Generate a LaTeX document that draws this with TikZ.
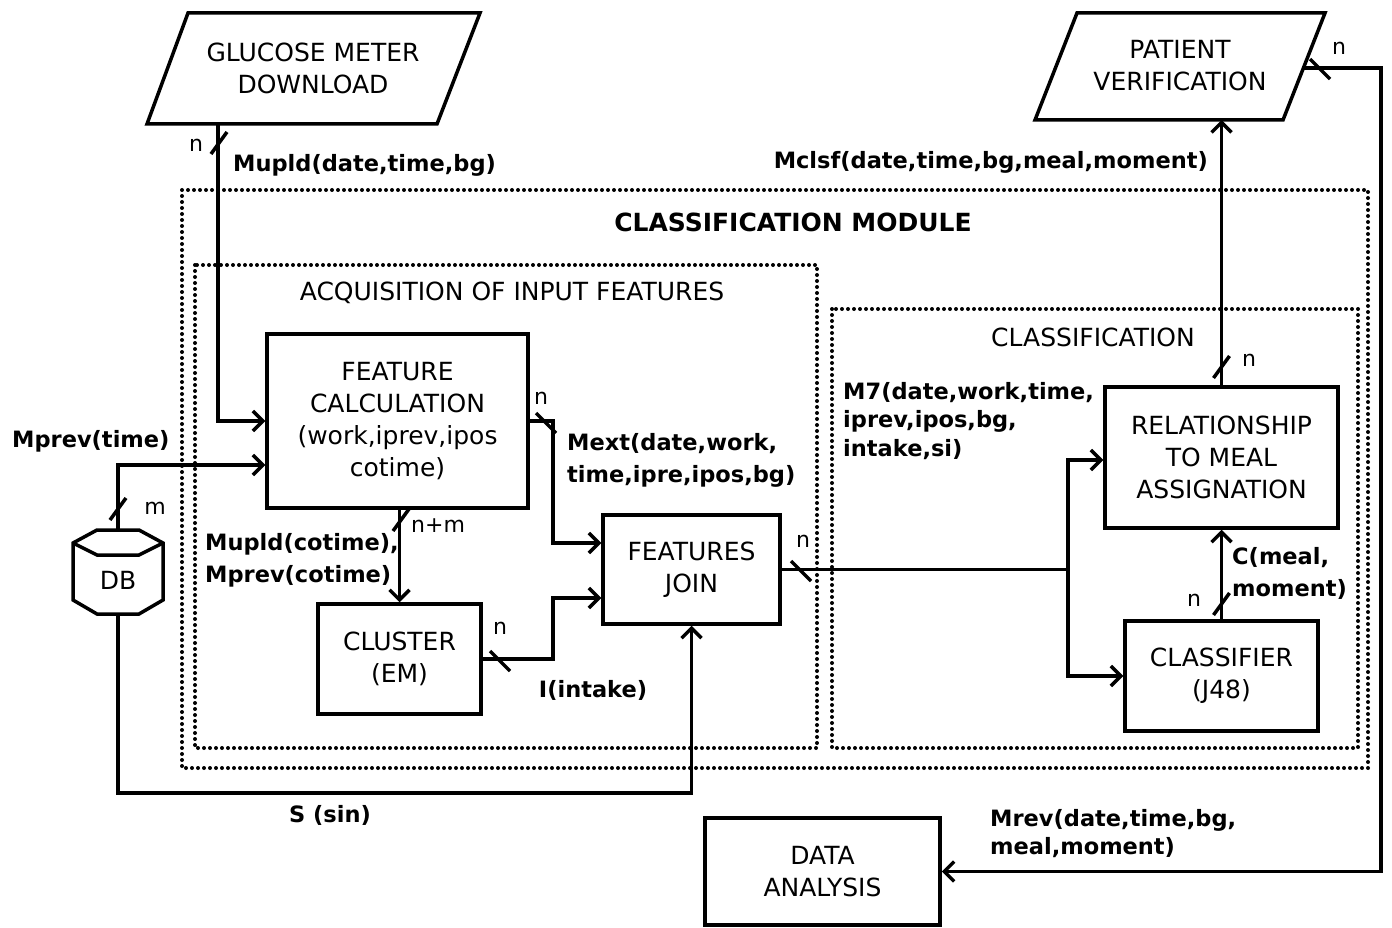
\documentclass[tikz,border=0pt]{standalone}
\usepackage{fontspec}
\setmainfont{DejaVu Sans}
\usetikzlibrary{arrows.meta}
\newcommand\bxfnt{\fontsize{25}{32}\selectfont}
\newcommand\lbfnt{\fontsize{22.5}{32}\selectfont\bfseries}
\newcommand\smfnt{\fontsize{22}{26}\selectfont}
\begin{document}
\begin{tikzpicture}[x=1pt,y=-1pt,
  con/.style={line width=3.5pt,line join=miter},
  arr/.style={con,-{Straight Barb[length=10pt,width=20pt,line width=3.5pt]}},
  box/.style={draw,line width=3.5pt,align=center,font=\bxfnt,inner sep=0pt},
  ttl/.style={font=\bxfnt,inner sep=0pt,align=center},
  lbl/.style={font=\lbfnt,inner sep=0pt,align=left},
  sm/.style={font=\smfnt,inner sep=0pt},
  dotbox/.style={line width=4pt,line cap=round,dash pattern=on 0pt off 6pt},
  vslash/.pic={\draw[line width=3.5pt] (-8,11)--(8,-11);},
  hslash/.pic={\draw[line width=3.5pt] (-10,-10)--(10,10);},
]
\useasboundingbox (0,0) rectangle (1392,928);

% dotted group frames
\draw[dotbox] (182,190) rectangle (1368,768);
\draw[dotbox] (195,265) rectangle (817,748);
\draw[dotbox] (832,309) rectangle (1358,748);
\node[ttl,font=\bxfnt\bfseries] (tmod) at (793,222) {CLASSIFICATION MODULE};
\node[ttl] (tacq) at (512,293) {ACQUISITION OF INPUT FEATURES};
\node[ttl] (tcls) at (1093,337) {CLASSIFICATION};

% input / output parallelograms
\draw[con] (188,13) -- (480,13) -- (437,124) -- (147,124) -- cycle;
\node[ttl] (gm) at (313,68) {GLUCOSE METER\\DOWNLOAD};
\coordinate (gmout) at (218,124);
\draw[con] (1077,13) -- (1325,13) -- (1283,120) -- (1035,120) -- cycle;
\node[ttl] (pv) at (1180,66) {PATIENT\\VERIFICATION};
\coordinate (pvin) at (1221.5,120);
\coordinate (pvout) at (1303,68);

% database
\draw[con] (73,543) -- (97,530) -- (139,530) -- (163,543) -- (163,600) -- (139,614) -- (97,614) -- (73,600) -- cycle;
\draw[con] (73,543) -- (97,555) -- (139,555) -- (163,543);
\node[ttl] (db) at (118,580) {DB};
\coordinate (dbtop) at (118,530);
\coordinate (dbbot) at (118,614);

% process boxes
\node[box,minimum width=261,minimum height=174] (fc) at (397.5,421) {FEATURE\\CALCULATION\\(work,iprev,ipos\\cotime)};
\node[box,minimum width=163,minimum height=110] (cl) at (399.5,659) {CLUSTER\\(EM)};
\node[box,minimum width=177,minimum height=109] (fj) at (691.5,569.5) {FEATURES\\JOIN};
\node[box,minimum width=233,minimum height=141] (rel) at (1221.5,457.5) {RELATIONSHIP\\TO MEAL\\ASSIGNATION};
\node[box,minimum width=193,minimum height=110] (clf) at (1221.5,676) {CLASSIFIER\\(J48)};
\node[box,minimum width=235,minimum height=107] (da) at (822.5,871.5) {DATA\\ANALYSIS};

% glucose meter -> feature calculation
\draw[arr] (gmout) |- (fc.west);
\pic at (219,143) {vslash};
\node[sm] (n1) at (196,145) {n};
\node[lbl,anchor=west] (l1) at (233,165) {Mupld(date,time,bg)};

% DB -> feature calculation
\draw[arr] (dbtop) |- ([yshift=-44pt]fc.west);
\pic at (118,509) {vslash};
\node[sm] (n2) at (155,508) {m};
\node[lbl,anchor=west] (l2) at (12,441) {Mprev(time)};

% DB -> features join
\draw[arr] (dbbot) -- (118,793) -| (fj.south);
\node[lbl] (l3) at (330,815) {S (sin)};

% feature calculation -> cluster
\draw[arr] (fc.south -| cl.north) -- (cl.north);
\pic at (401,520) {vslash};
\node[sm,anchor=west] (n3) at (411,526) {n+m};
\node[lbl,anchor=west] (l4) at (205,560) {Mupld(cotime),\\Mprev(cotime)};

% feature calculation -> features join
\draw[arr] (fc.east) -- (553,421) |- ([yshift=26.5pt]fj.west);
\pic at (546,423) {hslash};
\node[sm] (n4) at (541,398) {n};
\node[lbl,anchor=west] (l5) at (567,460) {Mext(date,work,\\time,ipre,ipos,bg)};

% cluster -> features join
\draw[arr] (cl.east) -- (553,659) |- ([yshift=-28.5pt]fj.west);
\pic at (500,661) {hslash};
\node[sm] (n5) at (500,628) {n};
\node[lbl] (l6) at (593,690) {I(intake)};

% features join -> classification
\coordinate (split) at (1068,569.5);
\draw[con] (fj.east) -- (split);
\draw[arr] (split) |- ([yshift=-2.5pt]rel.west);
\draw[arr] (split) |- (clf.west);
\pic at (801,571) {hslash};
\node[sm] (n6) at (803,541) {n};
\node[lbl,anchor=west,font=\fontsize{22.5}{28.5}\selectfont\bfseries] (l7) at (843,421) {M7(date,work,time,\\iprev,ipos,bg,\\intake,si)};

% classifier -> relationship
\draw[arr] (clf.north) -- (rel.south);
\pic at (1221.5,604) {vslash};
\node[sm] (n7) at (1194,600) {n};
\node[lbl,anchor=west] (l8) at (1232,573) {C(meal,\\moment)};

% relationship -> patient verification
\draw[arr] (rel.north) -- (pvin);
\pic at (1221.5,367) {vslash};
\node[sm] (n8) at (1249,360) {n};
\node[lbl,anchor=east] (l9) at (1208,162) {Mclsf(date,time,bg,meal,moment)};

% patient verification -> data analysis
\draw[arr] (pvout) -- (1381,68) |- (da.east);
\pic at (1320,69) {hslash};
\node[sm] (n9) at (1339,48) {n};
\node[lbl,anchor=west,font=\fontsize{22.5}{28}\selectfont\bfseries] (l10) at (990,834) {Mrev(date,time,bg,\\meal,moment)};
\end{tikzpicture}
\end{document}
